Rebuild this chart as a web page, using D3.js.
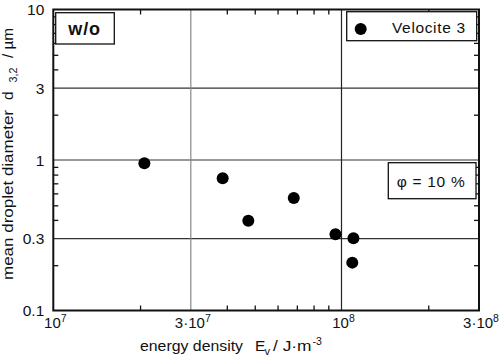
<!DOCTYPE html>
<html>
<head>
<meta charset="utf-8">
<script src="https://cdn.jsdelivr.net/npm/d3@7"></script>
<style>
  body { margin: 0; background: #fff; }
  text { font-family: "Liberation Sans", Arial, Helvetica, sans-serif; fill: #111; white-space: pre; }
</style>
</head>
<body>
<div id="chart"></div>
<script>
// energy density (J/m^3) and mean droplet diameter d3,2 (µm), Velocite 3
const energy = [2.07e7, 3.87e7, 4.75e7, 6.83e7, 9.53e7, 1.10e8, 1.09e8]
const diameter = [0.95, 0.756, 0.395, 0.56, 0.321, 0.302, 0.208]

const xLabelValues = [1e7, 3e7, 1e8, 3e8]
const xLabelMant = ['10', '3·10', '10', '3·10']
const xLabelExp = ['7', '7', '8', '8']
const xMinor = [2e7, 4e7, 5e7, 6e7, 7e7, 8e7, 9e7, 2e8]
const xGrid = [3e7, 1e8]

const yLabelValues = [0.1, 0.3, 1, 3, 10]
const yLabelText = ['0.1', '0.3', '1', '3', '10']
const yMinor = [0.2, 0.4, 0.5, 0.6, 0.7, 0.8, 0.9, 2, 4, 5, 6, 7, 8, 9]
const yGrid = [0.3, 1, 3]

const W = 500
const H = 363
const margin = { top: 9.5, right: 21, bottom: 52.5, left: 53.3 }
const width = W - margin.left - margin.right
const height = H - margin.top - margin.bottom

const svg = d3.select('#chart')
  .append('svg')
  .attr('width', W)
  .attr('height', H)

const g = svg.append('g')
  .attr('transform', `translate(${margin.left},${margin.top})`)

const x = d3.scaleLog().domain([1e7, 3e8]).range([0, width])
const y = d3.scaleLog().domain([0.1, 10]).range([height, 0])

// grid lines
g.selectAll('.hgrid')
  .data(yGrid)
  .join('line')
  .attr('x1', 0)
  .attr('x2', width)
  .attr('y1', d => y(d))
  .attr('y2', d => y(d))
  .attr('stroke', '#333')
  .attr('stroke-width', 1.2)

g.selectAll('.vgrid')
  .data(xGrid)
  .join('line')
  .attr('x1', d => x(d))
  .attr('x2', d => x(d))
  .attr('y1', 0)
  .attr('y2', height)
  .attr('stroke', (d, i) => i === 0 ? '#888' : '#222')
  .attr('stroke-width', 1.2)

// inward minor ticks on all four sides
const tick = 5
const axes = [
  d3.axisBottom(x).tickValues(xMinor).tickSize(-tick).tickFormat(''),
  d3.axisTop(x).tickValues(xMinor).tickSize(-tick).tickFormat(''),
  d3.axisLeft(y).tickValues(yMinor).tickSize(-tick).tickFormat(''),
  d3.axisRight(y).tickValues(yMinor).tickSize(-tick).tickFormat('')
]
const shifts = [`translate(0,${height})`, 'translate(0,0)', 'translate(0,0)', `translate(${width},0)`]
axes.forEach((ax, i) => {
  const a = g.append('g').attr('transform', shifts[i]).call(ax)
  a.select('.domain').remove()
  a.selectAll('line').attr('stroke', '#111').attr('stroke-width', 1.3)
})

// frame
g.append('rect')
  .attr('x', 0)
  .attr('y', 0)
  .attr('width', width)
  .attr('height', height)
  .attr('fill', 'none')
  .attr('stroke', '#111')
  .attr('stroke-width', 2)

// x tick labels with exponents
const xl = g.selectAll('.xlab')
  .data(xLabelValues)
  .join('text')
  .attr('x', d => x(d) + 2)
  .attr('y', height + 17)
  .attr('text-anchor', 'middle')
  .style('font-size', '15px')
xl.append('tspan').text((d, i) => xLabelMant[i])
xl.append('tspan')
  .attr('dy', -6)
  .style('font-size', '10.5px')
  .text((d, i) => xLabelExp[i])

// y tick labels
g.selectAll('.ylab')
  .data(yLabelValues)
  .join('text')
  .attr('x', -9)
  .attr('y', d => y(d) + 5.5)
  .attr('text-anchor', 'end')
  .style('font-size', '15.5px')
  .text((d, i) => yLabelText[i])

// small helper for title pieces
function piece (parent, px, py, str, size, len) {
  const t = parent.append('text')
    .attr('x', px)
    .attr('y', py)
    .style('font-size', size + 'px')
    .text(str)
  if (len) t.attr('textLength', len).attr('lengthAdjust', 'spacingAndGlyphs')
  return t
}

// x axis title
piece(svg, 140, 351, 'energy density', 15.5, 103)
piece(svg, 255, 351, 'E', 15.5)
piece(svg, 264.5, 355, 'v', 11)
piece(svg, 273, 351, '/ J·m', 15.5, 38.5)
piece(svg, 312.5, 345, '-3', 10.5)

// y axis title (rotated, so x runs upward as -y)
const yt = svg.append('g').attr('transform', 'translate(13,0) rotate(-90)')
piece(yt, -280, 0, 'mean droplet diameter', 15.5, 170)
piece(yt, -100, 0, 'd', 15.5)
piece(yt, -82.5, 4, '3,2', 11, 15)
piece(yt, -58, 0, '/ µm', 15.5, 30)

// data points
g.selectAll('.pt')
  .data(energy)
  .join('circle')
  .attr('cx', d => x(d))
  .attr('cy', (d, i) => y(diameter[i]))
  .attr('r', 6)
  .attr('fill', '#000')

// "w/o" box
svg.append('rect')
  .attr('x', 55.7).attr('y', 12.7).attr('width', 58.6).attr('height', 31.3)
  .attr('fill', '#fff').attr('stroke', '#111').attr('stroke-width', 1.3)
svg.append('text')
  .attr('x', 68.3).attr('y', 34.5)
  .attr('textLength', 31.7)
  .style('font-size', '18px').style('font-weight', 'bold')
  .text('w/o')

// legend box
svg.append('rect')
  .attr('x', 346.7).attr('y', 11.7).attr('width', 130).attr('height', 29)
  .attr('fill', '#fff').attr('stroke', '#111').attr('stroke-width', 1.3)
svg.append('circle')
  .attr('cx', 360.7).attr('cy', 29).attr('r', 6).attr('fill', '#000')
svg.append('text')
  .attr('x', 392).attr('y', 33)
  .attr('textLength', 73)
  .style('font-size', '15.5px')
  .text('Velocite 3')

// phi box
svg.append('rect')
  .attr('x', 388.3).attr('y', 162.7).attr('width', 87.7).attr('height', 36)
  .attr('fill', '#fff').attr('stroke', '#111').attr('stroke-width', 1.3)
svg.append('text')
  .attr('x', 396.7).attr('y', 186.5)
  .attr('textLength', 68)
  .style('font-size', '15.5px')
  .text('φ = 10 %')
</script>
</body>
</html>
